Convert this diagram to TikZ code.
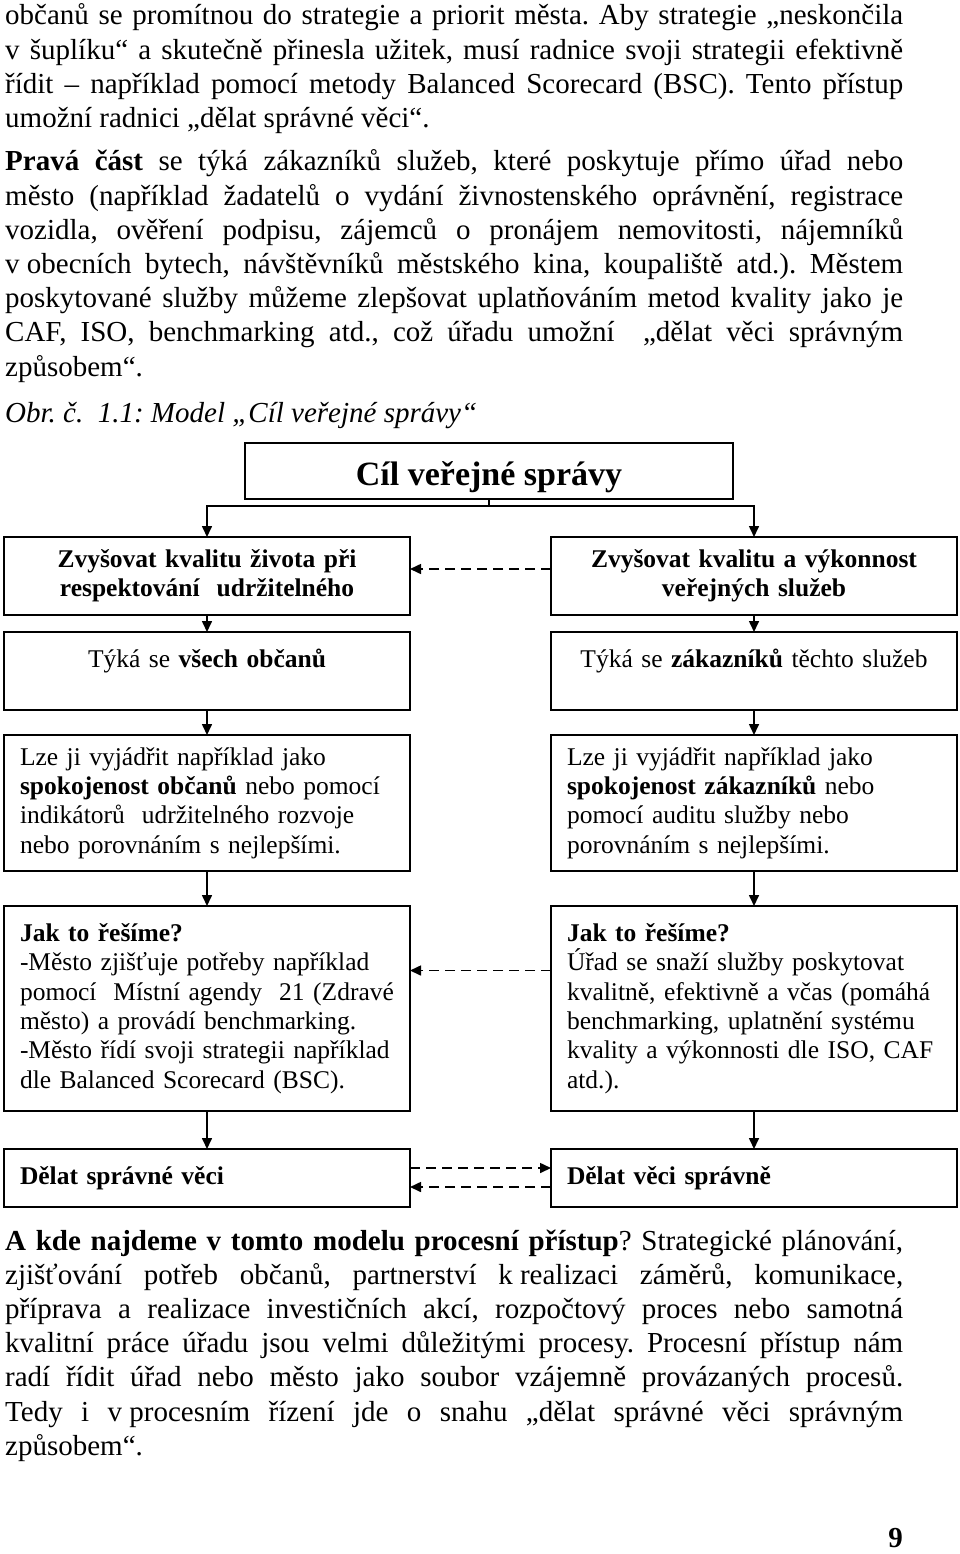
\documentclass[tikz,border=0pt]{standalone}
\usepackage{fontspec}
\setmainfont{Liberation Serif}
\usetikzlibrary{positioning,arrows.meta}

\begin{document}
\frenchspacing
\begin{tikzpicture}[
  >={Triangle[length=11pt,width=10pt]},
  para/.style={anchor=base west, inner sep=0pt, text width=898pt, align=justify, font=\fontsize{29pt}{34.2pt}\selectfont},
  box/.style={rectangle, draw, line width=2.4pt, outer sep=0pt, inner xsep=16pt, inner ysep=0pt, text width=374pt, align=left, font=\fontsize{25.5pt}{29.3pt}\selectfont},
  headbox/.style={box, align=center, font=\fontsize{25.5pt}{29.3pt}\selectfont\bfseries},
  link/.style={line width=1.6pt},
  dlink/.style={line width=1.6pt, dash pattern=on 10pt off 6pt}
]
\useasboundingbox (0,0) rectangle (960pt,-1554pt);

% text above the figure
\node[para] (para0) at (5pt,-25pt) {občanů se promítnou do strategie a priorit města. Aby strategie „neskončila\linebreak
v šuplíku“ a skutečně přinesla užitek, musí radnice svoji strategii efektivně\linebreak
řídit – například pomocí metody Balanced Scorecard (BSC). Tento přístup\linebreak
umožní radnici „dělat správné věci“.};
\node[para] (para1) at (5pt,-171pt) {\textbf{Pravá část} se týká zákazníků služeb, které poskytuje přímo úřad nebo\linebreak
město (například žadatelů o vydání živnostenského oprávnění, registrace\linebreak
vozidla, ověření podpisu, zájemců o pronájem nemovitosti, nájemníků\linebreak
\mbox{v obecních} bytech, návštěvníků městského kina, koupaliště atd.). Městem\linebreak
poskytované služby můžeme zlepšovat uplatňováním metod kvality jako je\linebreak
CAF, ISO, benchmarking atd., což úřadu umožní~ „dělat věci správným\linebreak
způsobem“.};
\node[anchor=base west, inner sep=0pt, font=\fontsize{29pt}{34.2pt}\selectfont\itshape] (caption) at (5pt,-422pt) {Obr. č.~ 1.1: Model „Cíl veřejné správy“};

% model
\node[rectangle, draw, line width=2.4pt, outer sep=0pt, minimum width=488pt, minimum height=56pt, text height=28pt, text depth=0pt, font=\fontsize{34pt}{40pt}\selectfont\bfseries] (goal) at (489pt,-471pt) {Cíl veřejné správy};

\node[headbox, minimum height=78pt] (L1) at (207pt,-576pt) {Zvyšovat kvalitu života při\\ respektování~ udržitelného};
\node[box, align=center, minimum height=78pt, text height=20pt, text depth=28pt, below=17pt of L1] (L2) {Týká se \textbf{všech občanů}};
\node[box, minimum height=136pt, below=25pt of L2] (L3) {Lze ji vyjádřit například jako\\
\textbf{spokojenost občanů} nebo pomocí\\
indikátorů~ udržitelného rozvoje\\
nebo porovnáním s~nejlepšími.};
\node[box, minimum height=205pt, below=35pt of L3] (L4) {\textbf{Jak to řešíme?}\\
-Město zjišťuje potřeby například\\
pomocí~ Místní agendy~ 21 (Zdravé\\
město) a provádí benchmarking.\\
\mbox{-Město řídí svoji strategii například}\\
dle Balanced Scorecard (BSC).};
\node[box, minimum height=58pt, below=38pt of L4] (L5) {\textbf{Dělat správné věci}};

\node[headbox, minimum height=78pt, right=141pt of L1] (R1) {Zvyšovat kvalitu a výkonnost\\ veřejných služeb};
\node[box, align=center, minimum height=78pt, text height=20pt, text depth=28pt, right=141pt of L2] (R2) {Týká se \textbf{zákazníků} těchto služeb};
\node[box, minimum height=136pt, right=141pt of L3] (R3) {Lze ji vyjádřit například jako\\
\textbf{spokojenost zákazníků} nebo\\
pomocí auditu služby nebo\\
porovnáním s~nejlepšími.};
\node[box, minimum height=205pt, right=141pt of L4] (R4) {\textbf{Jak to řešíme?}\\
Úřad se snaží služby poskytovat\\
kvalitně, efektivně a včas (pomáhá\\
benchmarking, uplatnění systému\\
kvality a výkonnosti dle ISO, CAF\\
atd.).};
\node[box, minimum height=58pt, right=141pt of L5] (R5) {\textbf{Dělat věci správně}};

\draw[link] (goal.south) -- ++(0,-7pt) coordinate (fork);
\draw[link,->] (fork) -| (L1.north);
\draw[link,->] (fork) -| (R1.north);
\draw[link,->] (L1) -- (L2);
\draw[link,->] (L2) -- (L3);
\draw[link,->] (L3) -- (L4);
\draw[link,->] (L4) -- (L5);
\draw[link,->] (R1) -- (R2);
\draw[link,->] (R2) -- (R3);
\draw[link,->] (R3) -- (R4);
\draw[link,->] (R4) -- (R5);
\draw[dlink,->] ([yshift=7pt]R1.west) -- ([yshift=7pt]L1.east);
\draw[dlink,->] ([yshift=38pt]R4.west) -- ([yshift=38pt]L4.east);
\draw[dlink,->] ([yshift=10pt]L5.east) -- ([yshift=10pt]R5.west);
\draw[dlink,->] ([yshift=-9pt]R5.west) -- ([yshift=-9pt]L5.east);

% text below the figure
\node[para] (para2) at (5pt,-1250pt) {\textbf{A kde najdeme v tomto modelu procesní přístup}? Strategické plánování,\linebreak
zjišťování potřeb občanů, partnerství \mbox{k realizaci} záměrů, komunikace,\linebreak
příprava a realizace investičních akcí, rozpočtový proces nebo samotná\linebreak
kvalitní práce úřadu jsou velmi důležitými procesy. Procesní přístup nám\linebreak
radí řídit úřad nebo město jako soubor vzájemně provázaných procesů.\linebreak
Tedy i \mbox{v procesním} řízení jde o snahu „dělat správné věci správným\linebreak
způsobem“.};
\node[anchor=base east, inner sep=0pt, font=\fontsize{29pt}{34.2pt}\selectfont\bfseries] (pagenum) at (903pt,-1547pt) {9};
\end{tikzpicture}
\end{document}
